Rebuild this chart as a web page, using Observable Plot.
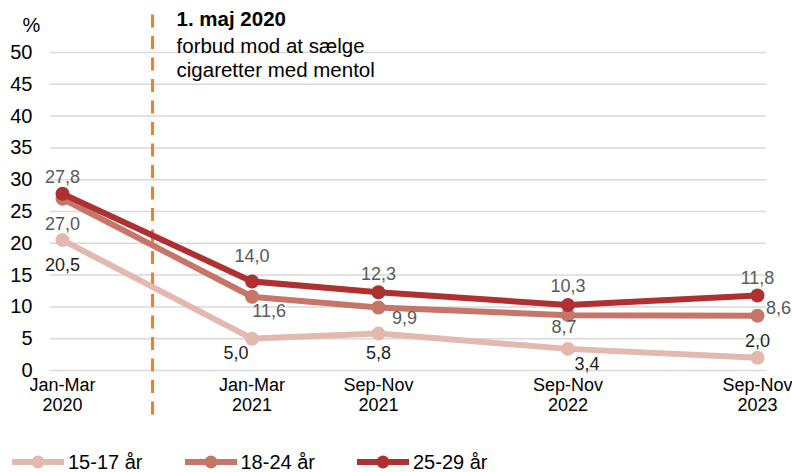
<!DOCTYPE html>
<html><head><meta charset="utf-8">
<script src="https://cdn.jsdelivr.net/npm/d3@7"></script>
<script src="https://cdn.jsdelivr.net/npm/@observablehq/plot@0.6"></script>
<style>
html,body{margin:0;padding:0;background:#fff;}
body{font-family:"Liberation Sans",Arial,sans-serif;width:792px;height:472px;overflow:hidden;}
#legend{display:flex;align-items:center;height:44px;padding-left:12px;gap:42px;font-size:20px;color:#000;}
#legend .item{display:flex;align-items:center;gap:4px;}
</style></head><body>
<div id="chart"></div>
<div id="legend"></div>
<script>
// ---- data ----
const periods = ["Jan-Mar\n2020", "Jan-Mar\n2021", "Sep-Nov\n2021", "Sep-Nov\n2022", "Sep-Nov\n2023"];
const periodMonth = [0, 12, 20, 32, 44]; // months after Jan-Mar 2020
const seriesNames = ["15-17 år", "18-24 år", "25-29 år"];
const values1517 = [20.5, 5.0, 5.8, 3.4, 2.0];
const values1824 = [27.0, 11.6, 9.9, 8.7, 8.6];
const values2529 = [27.8, 14.0, 12.3, 10.3, 11.8];
const yTicks = [0, 5, 10, 15, 20, 25, 30, 35, 40, 45, 50];
const banPosition = 5.7; // annotation line "1. maj 2020"
const annotationTitle = "1. maj 2020";
const annotationText = "forbud mod at sælge\ncigaretter med mentol";

// ---- styling ----
const colors = ["#E3B8AF", "#C67668", "#AE3030"];
const labelColors = ["#1f1f1f", "#595959", "#595959"];
const labelOffsets = [
  [[0, 25], [-16, 15], [0, 20], [19, 15], [0, -17]],
  [[0, 25], [17, 15], [26, 11], [-4, 12], [21, -8]],
  [[0, -16], [0, -25], [0, -18], [0, -19], [0, -17]]
];
const allValues = [values1517, values1824, values2529];
const fmt = v => d3.format(".1f")(v).replace(".", ",");

const rows = allValues.map((vals, s) => vals.map((v, i) => ({series: seriesNames[s], x: periodMonth[i], y: v, i})));

const marks = [
  Plot.ruleY(yTicks, {stroke: "#D9D9D9", strokeWidth: 1.5}),
  Plot.axisY({ticks: yTicks, tickSize: 0, tickPadding: 18, fontSize: 20, label: null}),
  Plot.axisX({ticks: periodMonth, tickFormat: d => periods[periodMonth.indexOf(d)], tickSize: 0, tickPadding: 6, fontSize: 18, lineHeight: 1.12, label: null}),
  Plot.ruleX([banPosition], {y1: -7, y2: 57, stroke: "#ED7D31", strokeWidth: 3, strokeDasharray: "13,8.5"}),
  Plot.text([annotationTitle], {x: () => banPosition, y: () => 50, dx: 24, dy: -41, textAnchor: "start", lineAnchor: "top", fontWeight: "bold", fontSize: 20.5, fill: "#000"}),
  Plot.text([annotationText], {x: () => banPosition, y: () => 50, dx: 24, dy: -17, textAnchor: "start", lineAnchor: "top", fontSize: 20.5, lineHeight: 1.18, fill: "#000"}),
  Plot.text(["%"], {frameAnchor: "top-left", dx: -28, dy: -35, lineAnchor: "top", fontSize: 20, fill: "#000"})
];
rows.forEach((r, s) => {
  marks.push(Plot.line(r, {x: "x", y: "y", stroke: colors[s], strokeWidth: 6}));
  marks.push(Plot.dot(r, {x: "x", y: "y", r: 7, fill: colors[s], stroke: "none"}));
});
rows.forEach((r, s) => {
  r.forEach((d, i) => {
    const [dx, dy] = labelOffsets[s][i];
    marks.push(Plot.text([d], {x: "x", y: "y", text: d => fmt(d.y), dx, dy, fontSize: 18, fill: labelColors[s]}));
  });
});

const chart = Plot.plot({
  width: 792, height: 440,
  marginLeft: 50, marginRight: 26, marginTop: 52, marginBottom: 70,
  x: {type: "linear", domain: [-0.76, 44.57]},
  y: {domain: [0, 50]},
  style: {fontFamily: "Liberation Sans, Arial, sans-serif", fontSize: "19px", color: "#000", background: "#fff", overflow: "visible"},
  marks
});
document.getElementById("chart").append(chart);

const legend = document.getElementById("legend");
seriesNames.forEach((name, s) => {
  const item = document.createElement("div");
  item.className = "item";
  item.innerHTML = `<svg width="52" height="16"><line x1="1" x2="51" y1="8" y2="8" stroke="${colors[s]}" stroke-width="6" stroke-linecap="round"/><circle cx="26" cy="8" r="6.5" fill="${colors[s]}"/></svg><span>${name}</span>`;
  legend.append(item);
});
</script>
</body></html>
